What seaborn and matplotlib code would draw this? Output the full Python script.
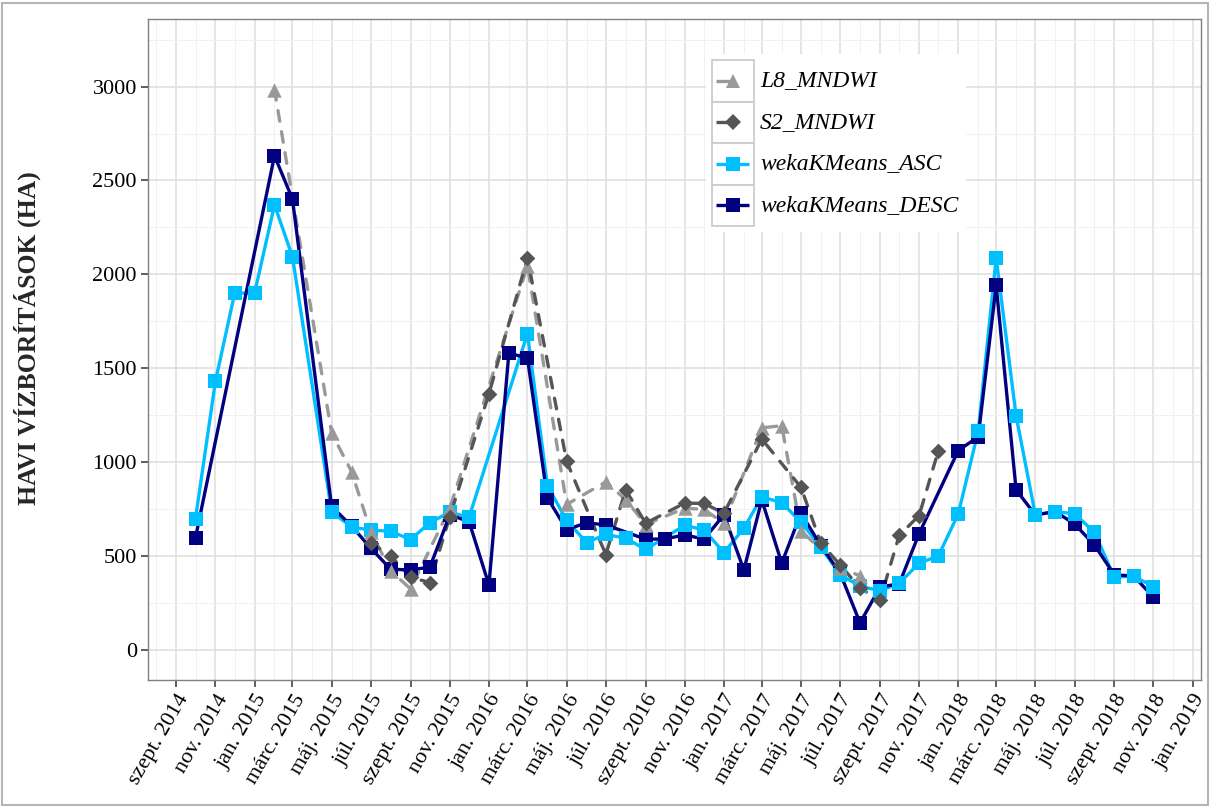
import matplotlib
matplotlib.use("Agg")
import matplotlib.pyplot as plt
from matplotlib.lines import Line2D
from matplotlib.patches import Rectangle
from matplotlib.ticker import MultipleLocator
import pandas as pd
import seaborn as sns

# Monthly flooded area (ha) per method
l8_dates = ["2015-02", "2015-05", "2015-06", "2015-07", "2015-08", "2015-09", "2015-11",
            "2016-03", "2016-05", "2016-07", "2016-08", "2016-09", "2016-11", "2016-12",
            "2017-01", "2017-03", "2017-04", "2017-05", "2017-07", "2017-08"]
l8_values = [2984, 1155, 950, 630, 421, 325, 755,
             2045, 775, 895, 800, 668, 755, 748,
             675, 1183, 1194, 635, 437, 395]

s2_dates = ["2015-07", "2015-08", "2015-09", "2015-10", "2015-11", "2016-01", "2016-03",
            "2016-05", "2016-07", "2016-08", "2016-09", "2016-11", "2016-12", "2017-01",
            "2017-03", "2017-05", "2017-06", "2017-07", "2017-08", "2017-09", "2017-10",
            "2017-11", "2017-12"]
s2_values = [570, 501, 387, 359, 710, 1364, 2087,
             1005, 508, 853, 675, 782, 780, 728,
             1123, 866, 568, 453, 329, 265, 610,
             716, 1062]

asc_dates = ["2014-10", "2014-11", "2014-12", "2015-01", "2015-02", "2015-03", "2015-05",
             "2015-06", "2015-07", "2015-08", "2015-09", "2015-10", "2015-11", "2015-12",
             "2016-03", "2016-04", "2016-05", "2016-06", "2016-07", "2016-08", "2016-09",
             "2016-11", "2016-12", "2017-01", "2017-02", "2017-03", "2017-04", "2017-05",
             "2017-06", "2017-07", "2017-08", "2017-09", "2017-10", "2017-11", "2017-12",
             "2018-01", "2018-02", "2018-03", "2018-04", "2018-05", "2018-06", "2018-07",
             "2018-08", "2018-09", "2018-10", "2018-11"]
asc_values = [700, 1430, 1900, 1900, 2370, 2094, 735,
              655, 638, 632, 588, 678, 734, 706,
              1685, 875, 690, 572, 615, 595, 535,
              664, 639, 518, 648, 815, 785, 680,
              548, 400, 340, 315, 355, 462, 501,
              725, 1165, 2087, 1247, 719, 737, 725,
              627, 387, 394, 337]

desc_dates = ["2014-10", "2015-02", "2015-03", "2015-05", "2015-06", "2015-07", "2015-08",
              "2015-09", "2015-10", "2015-11", "2015-12", "2016-01", "2016-02", "2016-03",
              "2016-04", "2016-05", "2016-06", "2016-07", "2016-09", "2016-10", "2016-11",
              "2016-12", "2017-01", "2017-02", "2017-03", "2017-04", "2017-05", "2017-06",
              "2017-07", "2017-08", "2017-09", "2017-10", "2017-11", "2018-01", "2018-02",
              "2018-03", "2018-04", "2018-05", "2018-06", "2018-07", "2018-08", "2018-09",
              "2018-10", "2018-11"]
desc_values = [598, 2632, 2401, 764, 660, 542, 430,
               426, 441, 719, 684, 346, 1581, 1554,
               810, 641, 677, 666, 590, 591, 613,
               590, 720, 426, 799, 462, 728, 555,
               409, 144, 335, 352, 620, 1062, 1135,
               1941, 853, 719, 737, 671, 559, 400,
               394, 281]

series_names = ["L8_MNDWI", "S2_MNDWI", "wekaKMeans_ASC", "wekaKMeans_DESC"]

# Hungarian month abbreviations for the date axis
hu_months = ["jan.", "febr.", "márc.", "ápr.", "máj.", "jún.",
             "júl.", "aug.", "szept.", "okt.", "nov.", "dec."]
tick_dates = pd.date_range("2014-09-01", "2019-01-01", freq="2MS")
tick_labels = [f"{hu_months[d.month - 1]} {d.year}" for d in tick_dates]
minor_dates = pd.date_range("2014-08-01", "2018-12-01", freq="2MS")

colors = {"L8_MNDWI": "#999999", "S2_MNDWI": "#555555",
          "wekaKMeans_ASC": "#00BFFF", "wekaKMeans_DESC": "#000080"}
markers = {"L8_MNDWI": "^", "S2_MNDWI": "D",
           "wekaKMeans_ASC": "s", "wekaKMeans_DESC": "s"}
marker_area = {"L8_MNDWI": 108, "S2_MNDWI": 64,
               "wekaKMeans_ASC": 92, "wekaKMeans_DESC": 92}
dash_spec = {"L8_MNDWI": (3.2, 3.2), "S2_MNDWI": (3.2, 3.2),
             "wekaKMeans_ASC": "", "wekaKMeans_DESC": ""}

frames = []
for name, d, v in zip(series_names,
                      [l8_dates, s2_dates, asc_dates, desc_dates],
                      [l8_values, s2_values, asc_values, desc_values]):
    frames.append(pd.DataFrame({"date": pd.to_datetime(d), "value": v, "series": name}))
df = pd.concat(frames, ignore_index=True)

sns.set_theme(style="white")
plt.rcParams["font.family"] = ["Liberation Serif", "DejaVu Serif"]

W, H = 1211, 807
fig = plt.figure(figsize=(W / 100, H / 100), dpi=100)
px_l, px_r, px_t, px_b = 148, 1201, 19, 680
ax = fig.add_axes([px_l / W, 1 - px_b / H, (px_r - px_l) / W, (px_b - px_t) / H])

# lines first, all series
sns.lineplot(data=df, x="date", y="value", hue="series", style="series",
             hue_order=series_names, style_order=series_names,
             palette=colors, dashes=dash_spec, linewidth=2.4,
             estimator=None, sort=True, legend=False, ax=ax, zorder=2,
             dash_capstyle="round", solid_capstyle="round",
             solid_joinstyle="round", dash_joinstyle="round")

# markers on top
for name in ["wekaKMeans_DESC", "wekaKMeans_ASC", "L8_MNDWI", "S2_MNDWI"]:
    sub = df[df["series"] == name]
    sns.scatterplot(data=sub, x="date", y="value", color=colors[name],
                    marker=markers[name], s=marker_area[name], linewidth=0,
                    legend=False, ax=ax, zorder=3)

ax.set_xlim(pd.Timestamp("2014-07-19"), pd.Timestamp("2019-01-14"))
ax.set_ylim(-160, 3360)

ax.set_xticks(tick_dates)
ax.set_xticklabels(tick_labels, rotation=60, ha="right", va="top",
                   rotation_mode="anchor")
ax.set_xticks(minor_dates, minor=True)
ax.yaxis.set_major_locator(MultipleLocator(500))
ax.yaxis.set_minor_locator(MultipleLocator(250))

ax.grid(which="major", color="#e0e0e0", linewidth=1.2)
ax.grid(which="minor", color="#f1f1f1", linewidth=0.7)
ax.set_axisbelow(True)

for sp in ax.spines.values():
    sp.set_color("#808080")
    sp.set_linewidth(1.0)

ax.tick_params(which="major", direction="out", length=5, width=1.1,
               color="#333333", labelsize=16, labelcolor="black", pad=3,
               bottom=True, left=True)
ax.tick_params(which="minor", length=0)

ax.set_xlabel("")
ax.set_ylabel("HAVI VÍZBORÍTÁSOK (HA)", fontsize=18.5, fontweight="bold")
ax.yaxis.set_label_coords(-0.102, 0.517)


# legend drawn in pixel-based axes fractions
def fx(px):
    return (px - px_l) / (px_r - px_l)


def fy(py):
    return (px_b - py) / (px_b - px_t)


ax.add_patch(Rectangle((fx(706), fy(232)), fx(966) - fx(706), fy(54) - fy(232),
                       transform=ax.transAxes, facecolor="white", edgecolor="none",
                       zorder=4, clip_on=False))
key_l, key_r, key_top, key_h = 711.5, 753.5, 60, 41.5
for i, name in enumerate(series_names):
    top = key_top + i * key_h
    cy = top + key_h / 2
    ax.add_patch(Rectangle((fx(key_l), fy(top + key_h)), fx(key_r) - fx(key_l),
                           fy(top) - fy(top + key_h), transform=ax.transAxes,
                           facecolor="white", edgecolor="#cccccc", linewidth=1.3,
                           zorder=5, clip_on=False))
    x_end = 733 if dash_spec[name] else 749
    ax.add_line(Line2D([fx(716), fx(x_end)], [fy(cy), fy(cy)], transform=ax.transAxes,
                       color=colors[name], linewidth=2.4, solid_capstyle="butt",
                       zorder=6, clip_on=False))
    ms = {"^": 10.4, "D": 8.0, "s": 9.6}[markers[name]]
    ax.add_line(Line2D([fx(733)], [fy(cy)], transform=ax.transAxes, linestyle="none",
                       marker=markers[name], markersize=ms, markeredgewidth=0,
                       color=colors[name], zorder=7, clip_on=False))
    ax.text(fx(760), fy(cy), name, transform=ax.transAxes, fontsize=17,
            fontstyle="italic", va="center", ha="left", color="black", zorder=7)

fig.patches.append(Rectangle((2 / W, 2 / H), 1 - 5 / W, 1 - 5 / H,
                             transform=fig.transFigure, fill=False,
                             edgecolor="#b5b5b5", linewidth=1.5))

fig.savefig("out.png", dpi=100)
